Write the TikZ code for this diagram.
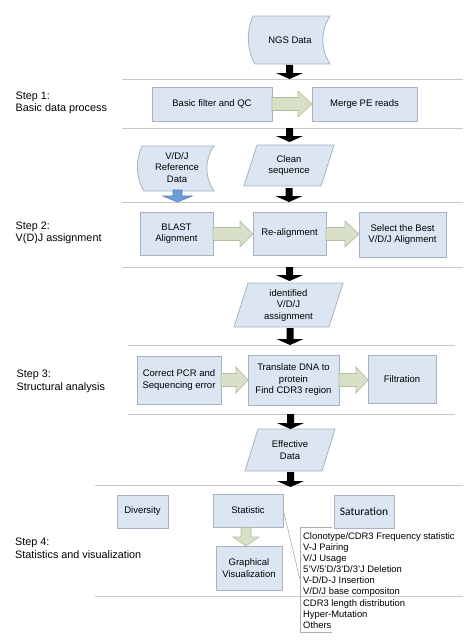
\documentclass[tikz,border=0pt]{standalone}
\usepackage{fontspec}
\setmainfont{Liberation Sans}
\newfontfamily\calib{Carlito}
\definecolor{boxfill}{RGB}{220,230,242}
\definecolor{boxline}{RGB}{168,178,195}
\definecolor{grnfill}{RGB}{216,224,200}
\definecolor{grnline}{RGB}{178,188,165}
\definecolor{bluefill}{RGB}{108,158,216}
\definecolor{blueline}{RGB}{74,126,187}
\definecolor{rulec}{RGB}{200,200,200}
\definecolor{calloutc}{RGB}{175,175,175}
\tikzset{
  box/.style={draw=boxline, fill=boxfill, line width=0.8pt, align=center, inner sep=1pt, font=\fontsize{9.5}{11.5}\selectfont},
  lbl/.style={align=center, inner sep=0pt, font=\fontsize{9.5}{11.5}\selectfont},
  steplbl/.style={align=left, anchor=west, inner sep=0pt, font=\fontsize{10.8}{12.5}\selectfont},
  shapeln/.style={draw=boxline, fill=boxfill, line width=0.8pt},
  hrule/.style={draw=rulec, line width=0.8pt},
  grn/.style={draw=grnline, fill=grnfill, line width=0.6pt},
  blk/.style={fill=black},
  blu/.style={draw=blueline, fill=bluefill, line width=0.6pt},
  callout/.style={draw=calloutc, line width=0.6pt},
}
\newcommand\bdown[3]{\path[blk] (#1-3.5,#2) -- (#1+3.5,#2) -- (#1+3.5,#3-6) -- (#1+13.5,#3-6) -- (#1,#3) -- (#1-13.5,#3-6) -- (#1-3.5,#3-6) -- cycle;}
\newcommand\gright[4]{\path[grn] (#1,#3-6.5) -- (#2-#4,#3-6.5) -- (#2-#4,#3-13) -- (#2,#3) -- (#2-#4,#3+13) -- (#2-#4,#3+6.5) -- (#1,#3+6.5) -- cycle;}
\newcommand\storedshape[4]{\path[shapeln] (#1+3,#3) -- (#2,#3) .. controls (#2-9.5,{#3+0.3*(#4-#3)}) and (#2-9.5,{#4-0.3*(#4-#3)}) .. (#2,#4) -- (#1+5,#4) .. controls (#1-3.5,{#4-0.3*(#4-#3)}) and (#1-3.5,{#3+0.3*(#4-#3)}) .. (#1+3,#3) -- cycle;}
\newcommand\parashape[6]{\path[shapeln] (#1,#3) -- (#2,#3) -- (#5,#6) -- (#4,#6) -- cycle;}
\begin{document}
\begin{tikzpicture}[x=1pt,y=-1pt]
\fill[white] (0,0) rectangle (475,642);
\useasboundingbox (0,0) rectangle (475,642);

% horizontal rules
\draw[hrule] (122,79) -- (463,79);
\draw[hrule] (122,128) -- (463,128);
\draw[hrule] (122,202) -- (463,202);
\draw[hrule] (122,267) -- (463,267);
\draw[hrule] (128,345) -- (455,345);
\draw[hrule] (128,414) -- (455,414);
\draw[hrule] (95,485) -- (463,485);
\draw[hrule] (95,596) -- (463,596);

% step labels
\node[steplbl] (s1) at (15.5,103) {Step 1:\\Basic data process};
\node[steplbl] (s2) at (15.5,233) {Step 2:\\V(D)J assignment};
\node[steplbl] (s3) at (16.5,381.5) {Step 3:\\Structural analysis};
\node[steplbl] (s4) at (15,548.5) {Step 4:\\Statistics and visualization};

% data shapes
\storedshape{250}{330}{16}{64}
\node[lbl] (ngs) at (290,40) {NGS Data};
\storedshape{139}{214}{146}{191}
\node[lbl] (ref) at (177,167.5) {V/D/J\\Reference\\Data};
\parashape{257}{334}{145}{244}{321}{186}
\node[lbl] (clean) at (289,165.5) {Clean\\sequence};
\parashape{248}{343}{283}{234}{329}{327}
\node[lbl] (ident) at (288.5,305.5) {identified\\V/D/J\\assignment};
\parashape{258}{335}{429}{245}{322}{471}
\node[lbl] (eff) at (290,450) {Effective\\Data};

% step 1
\node[box, minimum width=120, minimum height=34] (bf) at (212,104) {Basic filter and QC};
\node[box, minimum width=105, minimum height=34] (merge) at (364.5,104) {Merge PE reads};
\gright{272}{312}{104}{14}

% step 2
\node[box, minimum width=73, minimum height=43] (blast) at (176.5,233.5) {BLAST\\Alignment};
\node[box, minimum width=73, minimum height=43] (realign) at (289.5,233.5) {Re-alignment};
\node[box, minimum width=87, minimum height=45] (select) at (402.5,234.5) {Select the Best\\V/D/J Alignment};
\gright{213}{253}{234}{13}
\gright{326}{359}{234}{14}

% step 3
\node[box, minimum width=84, minimum height=48] (correct) at (179,380) {Correct PCR and\\Sequencing error};
\node[box, minimum width=91, minimum height=50] (translate) at (293.5,380) {Translate DNA to\\protein\\Find CDR3 region};
\node[box, minimum width=68, minimum height=48] (filt) at (402,379) {Filtration};
\gright{221}{248}{380}{12}
\gright{339}{368}{380}{12}

% step 4
\node[box, minimum width=51, minimum height=33] (div) at (142.5,511.5) {Diversity};
\node[box, minimum width=70, minimum height=33] (stat) at (248,510.5) {Statistic};
\node[box, minimum width=60, minimum height=33, font=\calib\fontsize{11.5}{13}\selectfont] (sat) at (364,511.5) {Saturation};
\node[box, minimum width=66, minimum height=44] (graph) at (249,568) {Graphical\\Visualization};
\path[grn] (241,527.5) -- (251,527.5) -- (251,537) -- (259,537) -- (246,546) -- (233,537) -- (241,537) -- cycle;

% callout list
\coordinate (brk) at (300,579.5);
\draw[callout] (332,527) -- (300,527) -- (300,632) -- (332,632);
\draw[callout] (stat.east) -- (brk);
\node[anchor=west, align=left, inner sep=0pt, font=\fontsize{9.4}{11.1}\selectfont] (list) at (303,580.5) {Clonotype/CDR3 Frequency statistic\\V-J Pairing\\V/J Usage\\5'V/5'D/3'D/3'J Deletion\\V-D/D-J Insertion\\V/D/J base compositon\\CDR3 length distribution\\Hyper-Mutation\\Others};

% black block arrows
\bdown{289.5}{65}{79}
\bdown{289.5}{128}{142}
\bdown{289}{188}{202}
\bdown{289.5}{267}{281}
\bdown{290}{328}{345}
\bdown{290.5}{414}{429}
\bdown{290.5}{472}{487}
% blue arrow
\path[blu] (173,190) -- (182,190) -- (182,196) -- (192,196) -- (177.5,202) -- (163,196) -- (173,196) -- cycle;
\end{tikzpicture}
\end{document}
